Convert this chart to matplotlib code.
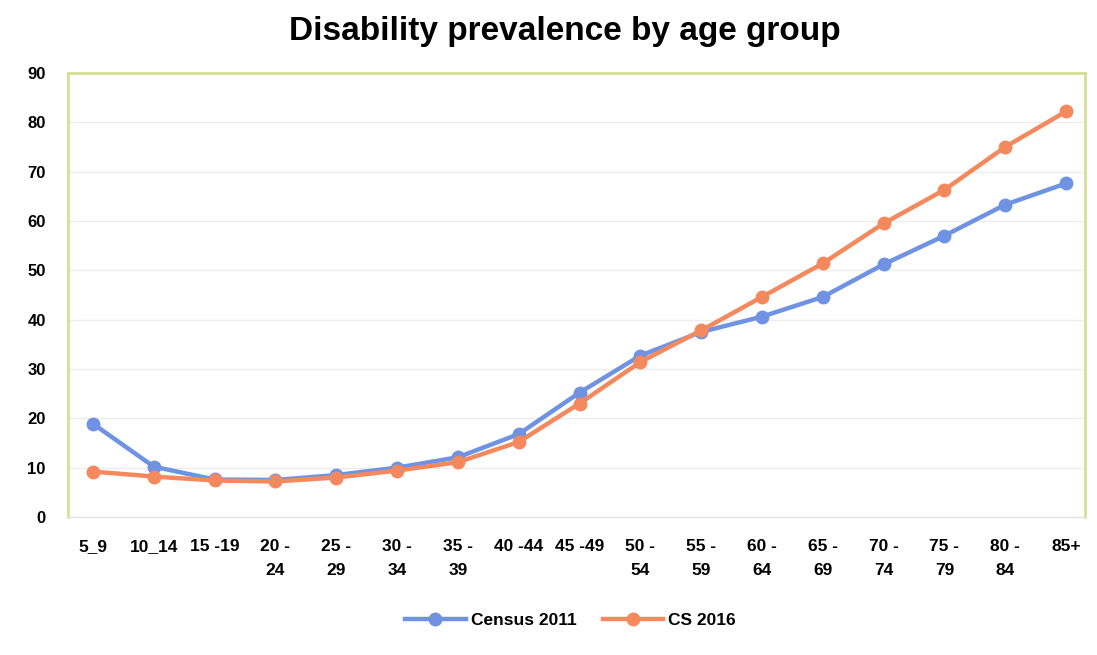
import matplotlib.pyplot as plt

age_groups = ['5_9', '10_14', '15 -19', '20 -\n24', '25 -\n29', '30 -\n34', '35 -\n39',
              '40 -44', '45 -49', '50 -\n54', '55 -\n59', '60 -\n64', '65 -\n69',
              '70 -\n74', '75 -\n79', '80 -\n84', '85+']
census_2011 = [18.9, 10.2, 7.6, 7.5, 8.5, 10.0, 12.1, 16.8, 25.2, 32.7, 37.5, 40.6, 44.6,
               51.2, 57.0, 63.3, 67.6]
cs_2016 = [9.2, 8.2, 7.4, 7.2, 8.0, 9.4, 11.1, 15.2, 23.0, 31.4, 37.8, 44.6, 51.4,
           59.5, 66.3, 75.0, 82.2]
yticks = list(range(0, 91, 10))

fig = plt.figure(figsize=(10.97, 6.55), dpi=100)
ax = fig.add_axes([0.062, 0.2107, 0.927, 0.678])

x = list(range(len(age_groups)))
ax.plot(x, census_2011, color='#6f93e2', lw=3.2, marker='o', ms=9, label='Census 2011', zorder=3)
ax.plot(x, cs_2016, color='#f5895e', lw=3.2, marker='o', ms=9, label='CS 2016', zorder=4)

ax.set_xlim(-0.41, 16.31)
ax.set_ylim(0, 90)
ax.set_yticks(yticks)
ax.set_yticklabels([str(v) for v in yticks], fontsize=12, fontweight='bold',
                   family='Liberation Sans')
ax.set_xticks(x)
ax.set_xticklabels(age_groups, fontsize=12.5, fontweight='bold', family='Liberation Sans',
                   linespacing=1.75, va='top')
ax.tick_params(axis='both', length=0)
ax.tick_params(axis='y', pad=16)
ax.tick_params(axis='x', pad=16)
ax.grid(axis='y', color='#ececec', lw=1)
ax.set_axisbelow(True)

for side in ['top', 'left', 'right']:
    ax.spines[side].set_color('#d6de96')
    ax.spines[side].set_linewidth(2)
ax.spines['bottom'].set_color('#e2e2e2')
ax.spines['bottom'].set_linewidth(1)

fig.text(0.515, 0.952, 'Disability prevalence by age group', ha='center', va='center',
         fontsize=24, fontweight='bold', family='Liberation Sans')

fig.legend(loc='center', bbox_to_anchor=(0.52, 0.053), ncol=2, frameon=False,
           prop={'family': 'Liberation Sans', 'weight': 'bold', 'size': 12.5},
           handlelength=3.5, columnspacing=1.5, handletextpad=0.3)

fig.savefig('out.png', dpi=100)
